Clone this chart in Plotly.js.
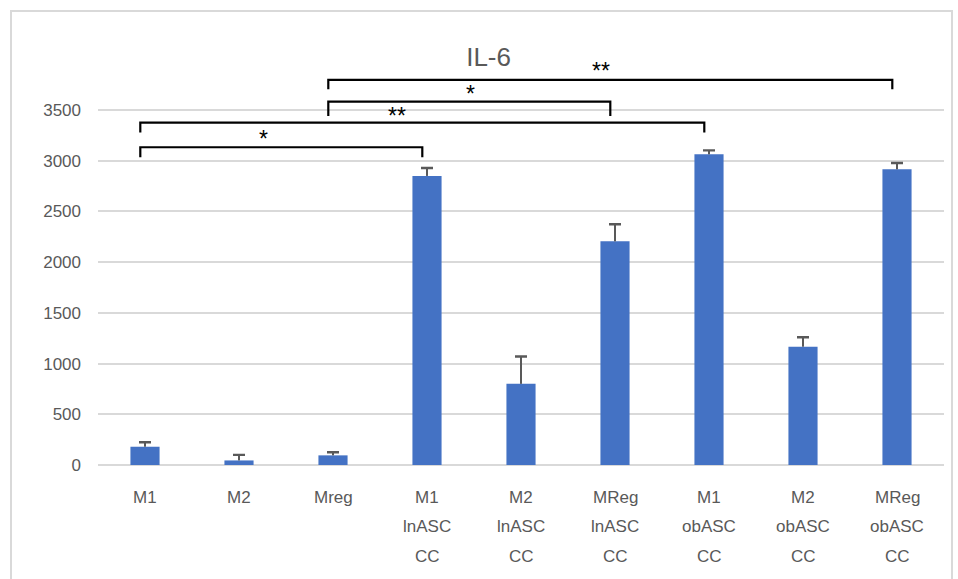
<!DOCTYPE html>
<html>
<head>
<meta charset="utf-8">
<script src="https://cdn.plot.ly/plotly-3.0.1.min.js"></script>
<style>
  html, body { margin: 0; padding: 0; background: #fff; }
  #wrap { position: relative; width: 958px; height: 579px; overflow: hidden; }
  #chart { width: 958px; height: 579px; }
  #frame { position: absolute; left: 10px; top: 10px; width: 943px; height: 600px;
           border: 2px solid #d9d9d9; box-sizing: border-box; pointer-events: none; }
</style>
</head>
<body>
<div id="wrap"><div id="chart"></div><div id="frame"></div></div>
<script>
// ---- data ----
const categories = ["M1", "M2", "Mreg", "M1 lnASC CC", "M2 lnASC CC", "MReg lnASC CC", "M1 obASC CC", "M2 obASC CC", "MReg obASC CC"];
const tickLines = [["M1"], ["M2"], ["Mreg"], ["M1", "lnASC", "CC"], ["M2", "lnASC", "CC"], ["MReg", "lnASC", "CC"], ["M1", "obASC", "CC"], ["M2", "obASC", "CC"], ["MReg", "obASC", "CC"]];
const il6Values = [180, 45, 95, 2850, 800, 2205, 3063, 1166, 2915];
const il6ErrPlus = [44, 55, 30, 78, 270, 168, 39, 94, 62];
const yTicks = [0, 500, 1000, 1500, 2000, 2500, 3000, 3500];
// significance brackets: from index, to index, label
const bracketFrom = [0, 0, 2, 2];
const bracketTo = [3, 6, 5, 8];
const bracketLabel = ["*", "**", "*", "**"];

// ---- layout helpers (positions/styles) ----
const bracketTop = [3133, 3376, 3583, 3797];
const bracketLeg = [3034, 3277, 3442, 3705];
const labelY = [3214, 3441, 3658, 3884];
const labelX = [1.26, 2.68, 3.46, 4.85];
const legShift = -0.05;
const FONT = 'Liberation Sans, Arial, sans-serif';

const xIdx = categories.map((c, i) => i);

const bars = {
  type: 'bar',
  x: xIdx,
  y: il6Values,
  width: 0.31,
  marker: { color: '#4472C4', line: { width: 0 } },
  hoverinfo: 'skip'
};

// plus-only error bars: stem drawn as a thin bar above each value, cap as a zero-length error bar
const errStems = {
  type: 'bar',
  x: xIdx,
  base: il6Values,
  y: il6ErrPlus,
  width: 0.022,
  marker: { color: '#595959', line: { width: 0 } },
  error_y: { type: 'data', array: il6ErrPlus.map(() => 0), color: '#595959', thickness: 2.4, width: 6 },
  hoverinfo: 'skip'
};

const shapes = [];
const annotations = [];
for (let k = 0; k < bracketFrom.length; k++) {
  const x0 = bracketFrom[k] + legShift, x1 = bracketTo[k] + legShift;
  shapes.push({
    type: 'path', xref: 'x', yref: 'y',
    path: `M ${x0},${bracketLeg[k]} L ${x0},${bracketTop[k]} L ${x1},${bracketTop[k]} L ${x1},${bracketLeg[k]}`,
    line: { color: '#000000', width: 2.2 }
  });
  annotations.push({
    xref: 'x', yref: 'y', x: labelX[k], y: labelY[k], text: bracketLabel[k],
    showarrow: false, font: { family: FONT, size: 23, color: '#000' },
    xanchor: 'center', yanchor: 'middle'
  });
}
tickLines.forEach((lines, i) => {
  lines.forEach((t, j) => {
    annotations.push({
      xref: 'x', yref: 'paper', x: i, y: 0, yshift: -(32 + j * 29.5),
      text: t, showarrow: false, xanchor: 'center', yanchor: 'middle',
      font: { family: FONT, size: 17, color: '#595959' }
    });
  });
});

const layout = {
  width: 958, height: 579,
  margin: { l: 98, r: 14, t: 60, b: 114 },
  paper_bgcolor: '#ffffff', plot_bgcolor: '#ffffff',
  title: { text: 'IL-6', x: 0.51, xanchor: 'center', xref: 'container', y: 1 - 57 / 579, yanchor: 'middle', yref: 'container',
           font: { family: FONT, size: 26, color: '#595959' } },
  showlegend: false,
  barmode: 'overlay',
  xaxis: { type: 'linear', range: [-0.5, 8.5], showticklabels: false, showgrid: false, zeroline: false,
           showline: false, ticks: '', fixedrange: true },
  yaxis: { range: [0, 3993], tickvals: yTicks, ticktext: yTicks.map(String), showgrid: true,
           gridcolor: '#d9d9d9', gridwidth: 2, zeroline: true, zerolinecolor: '#d9d9d9', zerolinewidth: 2,
           showline: false, ticks: '', ticklabelstandoff: 16,
           tickfont: { family: FONT, size: 17, color: '#595959' } },
  shapes: shapes,
  annotations: annotations
};

Plotly.newPlot('chart', [bars, errStems], layout, { staticPlot: true, displayModeBar: false });
</script>
</body>
</html>
